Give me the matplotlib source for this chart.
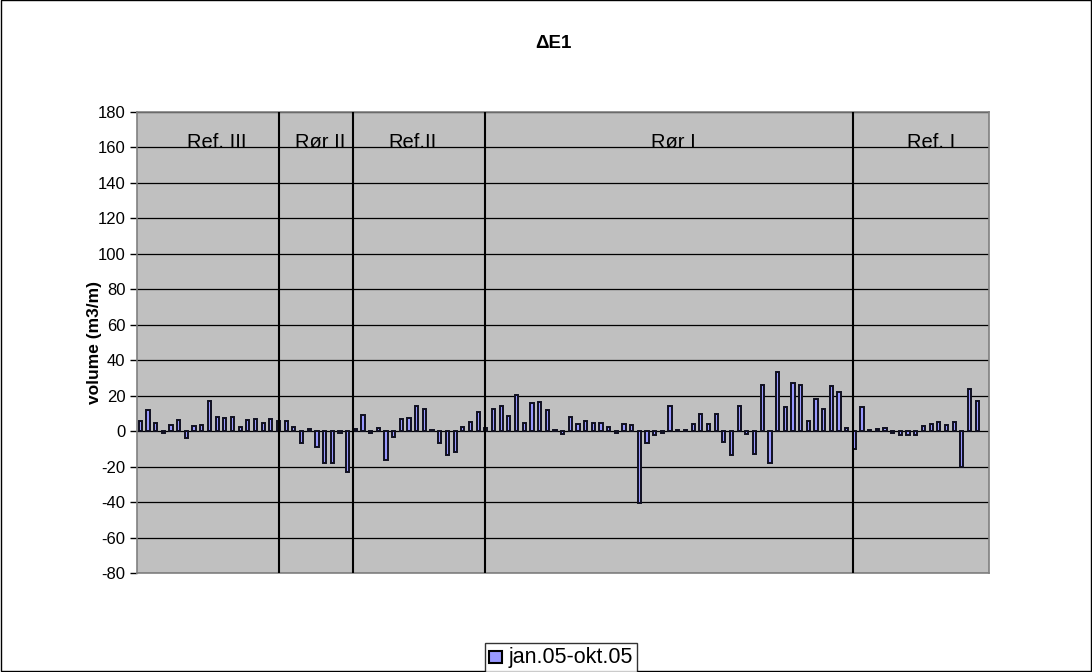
import numpy as np
import matplotlib
matplotlib.use("Agg")
import matplotlib.pyplot as plt
from matplotlib.patches import Rectangle

plt.rcParams['font.family'] = ['Liberation Sans', 'DejaVu Sans']
plt.rcParams['axes.unicode_minus'] = False

title = "ΔE1"
ylabel = "volume (m3/m)"
series_name = "jan.05-okt.05"

# change in volume per station (m3/m); the last station has no value
values = [
    5.6, 12.1, 4.6, -0.9, 3.4, 6.5, -3.7, 2.8, 3.4, 16.8,
    8.0, 7.6, 8.0, 2.2, 6.5, 7.1, 4.7, 7.1, 6.0, 5.6,
    2.4, -6.5, 1.3, -8.9, -17.7, -17.7, -0.9, -23.3, 1.5, 8.9,
    -0.9, 1.7, -16.4, -3.4, 7.1, 7.4, 14.0, 12.5, 0.8, -6.9,
    -13.6, -11.7, 2.2, 5.0, 10.8, 1.8, 12.7, 14.3, 8.4, 20.5,
    4.7, 15.8, 16.4, 11.7, 0.9, -1.5, 7.8, 4.1, 6.0, 4.7,
    4.7, 2.4, -0.9, 4.3, 3.4, -40.5, -6.9, -2.2, -1.3, 14.3,
    0.9, 0.5, 4.3, 9.6, 4.2, 9.6, -6.2, -13.5, 14.4, -1.8,
    -13.1, 26.0, -17.8, 33.4, 13.9, 27.3, 25.8, 5.9, 18.3, 12.6,
    25.4, 22.3, 1.6, -9.8, 13.5, 0.8, 1.2, 1.6, -1.0, -2.0,
    -2.0, -2.0, 2.7, 4.0, 4.9, 3.6, 4.9, -20.0, 23.6, 17.2,
    np.nan,
]

# section names, where each label sits and the borders between sections
section_names = ["Ref. III", "Rør II", "Ref.II", "Rør I", "Ref. I"]
section_label_x = [10.0, 23.4, 35.5, 69.4, 103.0]
section_borders = [18.0, 27.75, 44.9, 92.8]

y_min, y_max, y_step = -80, 180, 20

fig = plt.figure(figsize=(10.92, 6.72), dpi=100)
fig.patch.set_facecolor("white")
fig.patches.append(Rectangle((0.0005, 0.0008), 0.999, 0.9985, transform=fig.transFigure,
                             fill=False, edgecolor="black", linewidth=1.0))

ax = fig.add_axes([0.125, 0.1473, 0.7804, 0.686])
ax.set_facecolor("#C0C0C0")
for s in ax.spines.values():
    s.set_color("#808080")
    s.set_linewidth(1.2)

x = np.arange(len(values))
bars = ax.bar(x, values, width=0.42, color="#9999FF", edgecolor="#101020",
              linewidth=1.4, label=series_name, zorder=3)

ax.set_xlim(-0.5, len(values) - 0.5)
ax.set_ylim(y_min, y_max)
ax.set_yticks(np.arange(y_min, y_max + 1, y_step))
ax.yaxis.grid(True, color="black", linewidth=0.9, zorder=1)
ax.set_axisbelow(True)
ax.set_xticks([])
ax.tick_params(axis="y", direction="out", length=5, width=1, color="black",
               labelsize=12, pad=3)

for b in section_borders:
    ax.axvline(b, color="black", linewidth=1.5, zorder=4)

for name, lx in zip(section_names, section_label_x):
    ax.text(lx, 159.6, name, ha="center", va="baseline", fontsize=14.5, zorder=5)

ax.set_ylabel(ylabel, fontsize=12.5, fontweight="bold", labelpad=-3)
fig.text(0.507, 0.936, title, ha="center", va="center", fontsize=13.5, fontweight="bold")

leg = fig.legend(handles=[bars], labels=[series_name], loc="center",
                 bbox_to_anchor=(0.514, 0.021), fontsize=15.5, frameon=True,
                 fancybox=False, handlelength=0.7, handleheight=0.7,
                 handletextpad=0.2, borderpad=0.2, borderaxespad=0)
leg.get_frame().set_edgecolor("black")
leg.get_frame().set_linewidth(1.0)
for h in leg.legend_handles:
    h.set_width(9)
    h.set_height(9)
    h.set_linewidth(1.5)
    h.set_edgecolor("black")

fig.savefig("out.png", dpi=100)
